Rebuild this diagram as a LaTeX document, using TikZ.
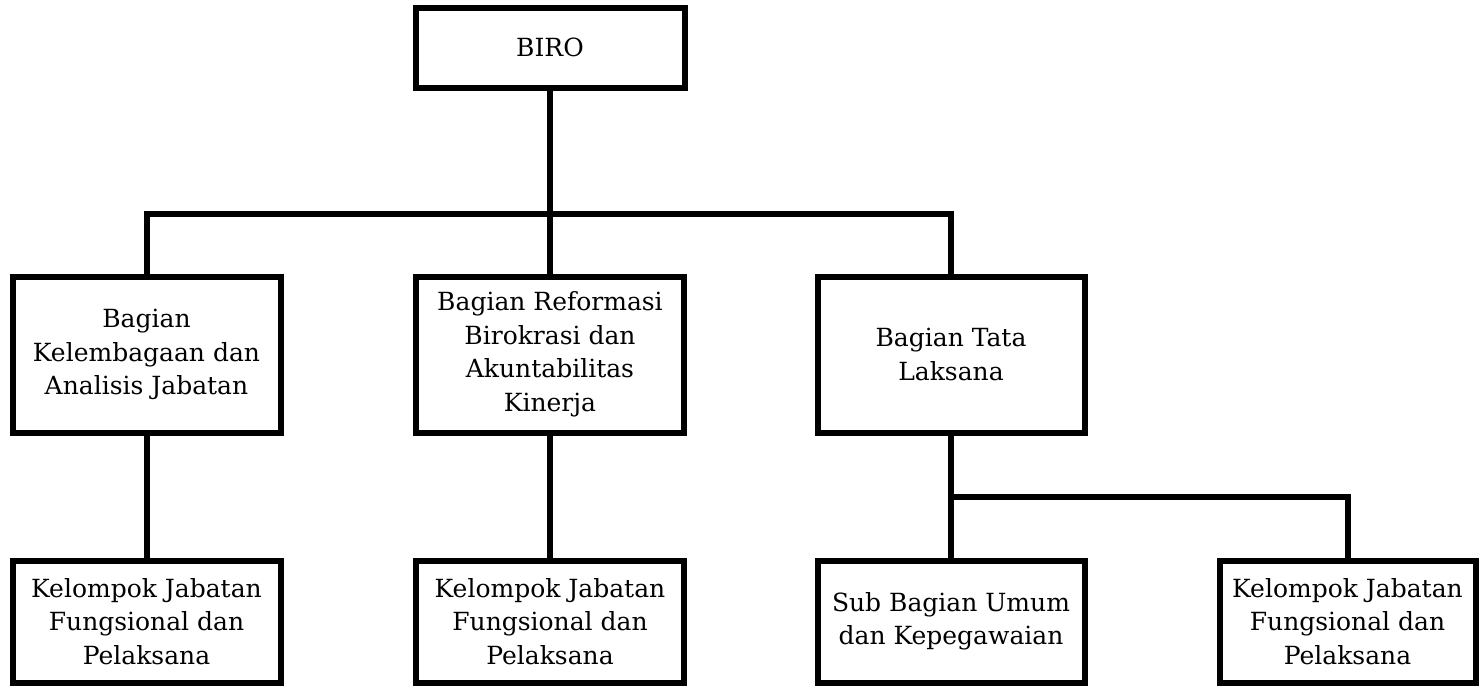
\documentclass[tikz,border=0pt]{standalone}
\usepackage{fontspec}
\setmainfont{DejaVu Serif}
\begin{document}
\begin{tikzpicture}[x=1pt,y=-1pt,
  box/.style={draw=black, line width=6pt, inner sep=0pt, align=center,
    font=\fontsize{25}{33.5}\selectfont, fill=white},
  conn/.style={draw=black, line width=6pt}]
\useasboundingbox (0,0) rectangle (1480,686);
% top
\node[box, minimum width=269pt, minimum height=80pt] (biro) at (550,47.5) {BIRO};
% row 2
\node[box, minimum width=268pt, minimum height=156pt] (r21) at (146.5,354.5) {Bagian\\Kelembagaan dan\\Analisis Jabatan};
\node[box, minimum width=268pt, minimum height=156pt] (r22) at (550,354.5) {Bagian Reformasi\\Birokrasi dan\\Akuntabilitas\\Kinerja};
\node[box, minimum width=267pt, minimum height=156pt] (r23) at (951,354.5) {Bagian Tata\\Laksana};
% row 3
\node[box, minimum width=268pt, minimum height=122pt] (r31) at (146.5,621.5) {Kelompok Jabatan\\Fungsional dan\\Pelaksana};
\node[box, minimum width=268pt, minimum height=122pt] (r32) at (550,621.5) {Kelompok Jabatan\\Fungsional dan\\Pelaksana};
\node[box, minimum width=267pt, minimum height=122pt] (r33) at (951,621.5) {Sub Bagian Umum\\dan Kepegawaian};
\node[box, minimum width=256pt, minimum height=122pt] (r34) at (1347.5,621.5) {Kelompok Jabatan\\Fungsional dan\\Pelaksana};
% connectors
\coordinate (j1) at (550,214);
\coordinate (j2) at (951,497);
\draw[conn] (biro.south) -- (j1);
\draw[conn] (r21.north) |- (j1) -| (r23.north);
\draw[conn] (j1) -- (r22.north);
\draw[conn] (r21.south) -- (r31.north);
\draw[conn] (r22.south) -- (r32.north);
\draw[conn] (r23.south) -- (r33.north);
\draw[conn] (j2) -| (r34.north);
\end{tikzpicture}
\end{document}
